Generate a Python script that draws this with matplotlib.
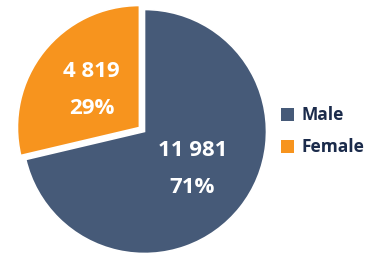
import matplotlib
matplotlib.use("Agg")
import matplotlib.pyplot as plt
from matplotlib.patches import Patch

# data
labels = ["Male", "Female"]
counts = [11981, 4819]
colors = ["#465A78", "#F7941E"]
explode = [0, 0.053]

total = sum(counts)

def fmt(pct):
    val = int(round(pct * total / 100.0))
    s = f"{val:,}".replace(",", " ")
    return f"{s}\n{pct:.0f}%"

fig = plt.figure(figsize=(3.77, 2.59), dpi=100)
# axes placed so circle sits at the reference position
W, H = 377, 259
cx, cy, r = 144.5, 259 - 131.5, 122
ax = fig.add_axes([(cx - r) / W, (cy - r) / H, 2 * r / W, 2 * r / H])

wedges, texts, autotexts = ax.pie(
    counts, colors=colors, explode=explode, startangle=90, counterclock=False,
    autopct=fmt, pctdistance=0.5,
    wedgeprops=dict(edgecolor="white", linewidth=1.2),
    textprops=dict(color="white", fontsize=16, fontweight="bold",
                   family=["Open Sans", "DejaVu Sans"], linespacing=2.0),
)
for w in wedges:
    w.set_clip_on(False)
ax.set_xlim(-1, 1)
ax.set_ylim(-1, 1)
ax.set_aspect("auto")
ax.axis("off")

handles = [Patch(facecolor=c, edgecolor="none") for c in colors]
leg = fig.legend(handles, labels, loc="center left", bbox_to_anchor=(0.722, 0.493),
                 frameon=False, handlelength=0.75, handleheight=0.75,
                 handletextpad=0.45, labelspacing=0.8, borderpad=0,
                 prop=dict(family=["Open Sans", "DejaVu Sans"], weight="bold", size=12.5))
for t in leg.get_texts():
    t.set_color("#1B2B4B")

fig.savefig("out.png", dpi=100)
